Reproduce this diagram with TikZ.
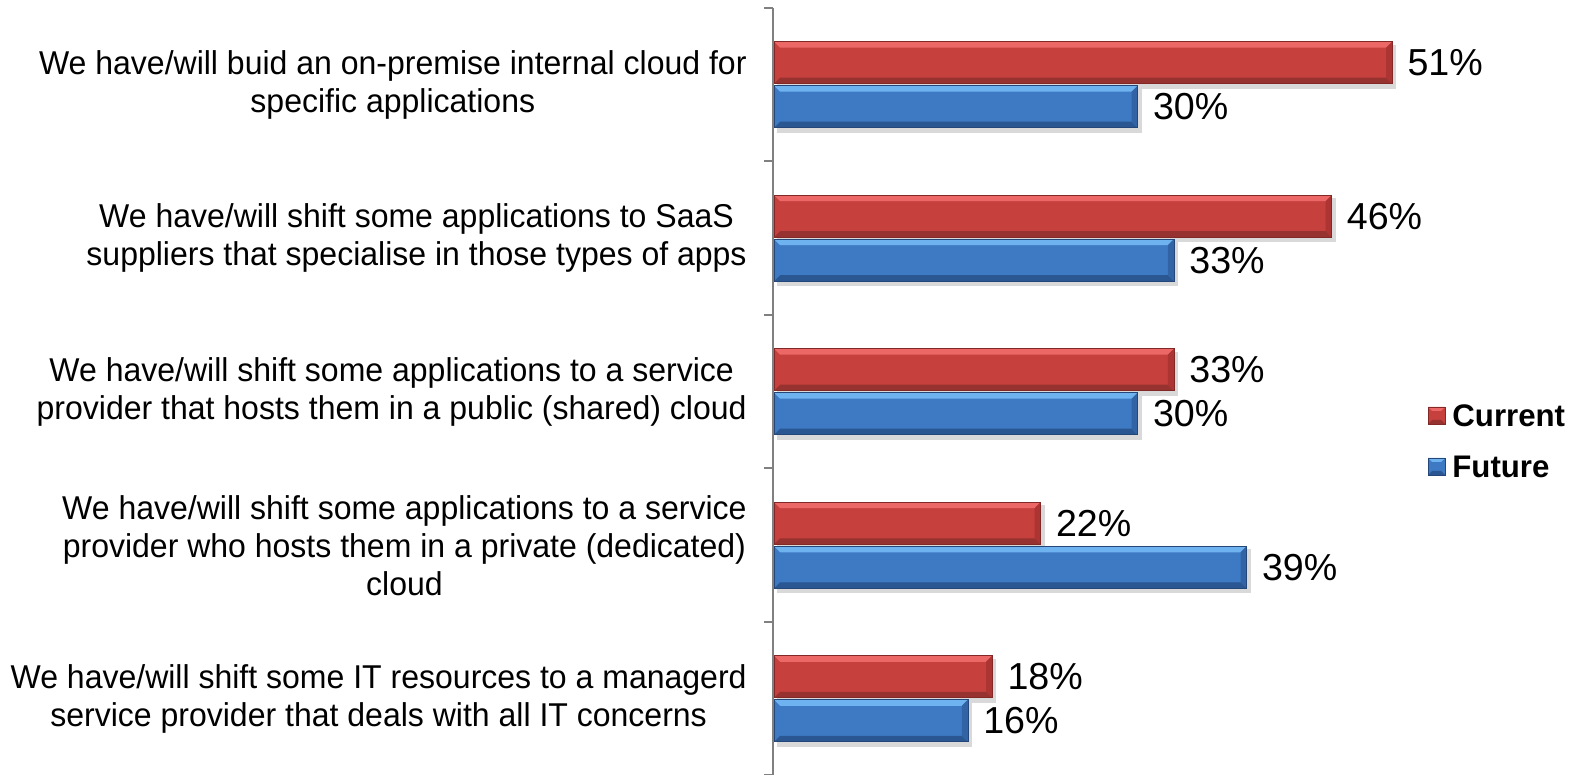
\documentclass[tikz,border=0pt]{standalone}
\usepackage{fontspec}
\setmainfont{Liberation Sans}
\newfontfamily\catfont{Liberation Sans}[FakeStretch=0.97]
\newfontfamily\pctfont{Liberation Sans}
\definecolor{redmain}{RGB}{198,64,62}
\definecolor{redlight}{RGB}{236,104,102}
\definecolor{reddark}{RGB}{150,50,48}
\definecolor{redside}{RGB}{172,52,50}
\definecolor{rededge}{RGB}{130,40,38}
\definecolor{bluemain}{RGB}{62,122,195}
\definecolor{bluelight}{RGB}{110,178,240}
\definecolor{bluedark}{RGB}{42,86,146}
\definecolor{blueside}{RGB}{50,100,165}
\definecolor{blueedge}{RGB}{36,70,120}
\definecolor{axisgray}{RGB}{128,128,128}
\tikzset{
  cat/.style={anchor=east, align=center, inner sep=0pt, font=\catfont\fontsize{16.5}{19}\selectfont},
  pct/.style={anchor=west, inner sep=0pt, font=\pctfont\fontsize{18.8}{22}\selectfont},
  leg/.style={anchor=west, inner sep=0pt, font=\bfseries\fontsize{15.6}{18}\selectfont},
  axisline/.style={draw=axisgray, line width=1pt},
}
% #1 top y, #2 bottom y, #3 value (percent), #4 colour prefix, #5 name of end coordinate
\newcommand\drawbar[5]{%
  \pgfmathsetmacro\xe{774+12.12*#3}%
  \fill[black,opacity=0.15] (777,#1+3) rectangle (\xe+4,#2+5);
  \fill[#4main] (774,#1) rectangle (\xe,#2);
  \fill[#4light] (774,#1) -- (\xe,#1) -- (\xe-6,#1+6) -- (780,#1+6) -- cycle;
  \fill[#4dark] (774,#2) -- (\xe,#2) -- (\xe-6,#2-6) -- (780,#2-6) -- cycle;
  \fill[#4side] (\xe,#1) -- (\xe,#2) -- (\xe-6,#2-6) -- (\xe-6,#1+6) -- cycle;
  \draw[#4edge, line width=0.4pt] (774,#1) rectangle (\xe,#2);
  \coordinate (#5) at (\xe,{(#1+#2)/2});
}
\begin{document}
\begin{tikzpicture}[x=0.5pt,y=-0.5pt]
\useasboundingbox (0,0) rectangle (1576,775);
% axis
\draw[axisline] (773,8) -- (773,775);
\foreach \t in {8,161.5,315,468.5,622,775} \draw[axisline] (764,\t) -- (773,\t);
% rows
\foreach \i/\c/\f in {0/51/30,1/46/33,2/33/30,3/22/39,4/18/16}{
  \pgfmathsetmacro\yc{84.75+153.5*\i}
  \drawbar{\yc-43}{\yc-1}{\c}{red}{c\i}
  \drawbar{\yc+1}{\yc+43}{\f}{blue}{f\i}
  \node[pct] (lc\i) at ([xshift=7.5pt]c\i) {\c\%};
  \node[pct] (lf\i) at ([xshift=7.5pt]f\i) {\f\%};
}
\node[cat] (cat0) at (747,84.75) {We have/will buid an on-premise internal cloud for\\specific applications};
\node[cat] (cat1) at (747,238.25) {We have/will shift some applications to SaaS\\suppliers that specialise in those types of apps};
\node[cat] (cat2) at (747,391.75) {We have/will shift some applications to a service\\provider that hosts them in a public (shared) cloud};
\node[cat] (cat3) at (747,545.25) {We have/will shift some applications to a service\\provider who hosts them in a private (dedicated)\\cloud};
\node[cat] (cat4) at (747,698.75) {We have/will shift some IT resources to a managerd\\service provider that deals with all IT concerns};
% legend
\fill[redmain] (1428,407) rectangle (1445,424);
\fill[redlight] (1428,407) -- (1445,407) -- (1441,411) -- (1432,411) -- cycle;
\fill[reddark] (1428,424) -- (1445,424) -- (1441,420) -- (1432,420) -- cycle;
\draw[rededge,line width=0.3pt] (1428,407) rectangle (1445,424);
\fill[bluemain] (1428,458) rectangle (1445,475);
\fill[bluelight] (1428,458) -- (1445,458) -- (1441,462) -- (1432,462) -- cycle;
\fill[bluedark] (1428,475) -- (1445,475) -- (1441,471) -- (1432,471) -- cycle;
\draw[blueedge,line width=0.3pt] (1428,458) rectangle (1445,475);
\node[leg] (legc) at (1452,415.5) {Current};
\node[leg] (legf) at (1452,466.5) {Future};
\end{tikzpicture}
\end{document}
